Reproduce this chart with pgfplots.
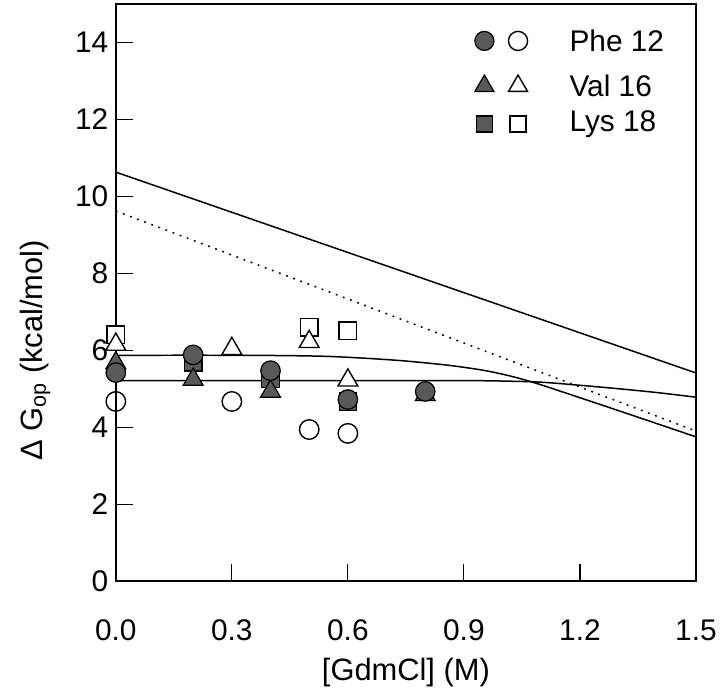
\documentclass[border=0pt]{standalone}
\usepackage{fontspec}
\setmainfont{Liberation Sans}
\usepackage{pgfplots}
\pgfplotsset{compat=1.18}
\definecolor{stip}{gray}{0.35}
\begin{document}
\begin{tikzpicture}
\begin{axis}[
  scale only axis, width=581bp, height=578bp,
  xmin=0, xmax=1.5, ymin=0, ymax=15,
  clip=false,
  axis line style={line width=1.4bp},
  xtick={0,0.3,0.6,0.9,1.2,1.5},
  ytick={0,2,4,6,8,10,12,14},
  tick align=inside, xtick pos=bottom, ytick pos=left,
  major tick length=17bp,
  tick style={line width=1.2bp, black},
  /pgf/number format/assume math mode=true,
  x tick label style={/pgf/number format/fixed, /pgf/number format/fixed zerofill, /pgf/number format/precision=1, yshift=-35bp},
  y tick label style={xshift=-4bp},
  ticklabel style={font=\fontsize{30}{32}\selectfont},
  label style={font=\fontsize{31}{33}\selectfont},
  xlabel={[GdmCl] (M)},
  ylabel={Δ G\textsubscript{op} (kcal/mol)},
  xlabel style={at={(axis description cs:0.5,-0.158)}, anchor=center},
  ylabel style={at={(axis description cs:-0.139,0.40)}, anchor=center, rotate=0},
  every axis plot/.append style={line width=1.5bp},
]
% model lines
\addplot[black, no markers] coordinates {(0,10.63) (1.5,5.41)};
\addplot[black, no markers, dash pattern=on 1.8bp off 5.8bp] coordinates {(0,9.62) (1.5,3.90)};
\addplot[black, no markers, smooth, tension=0.5] coordinates {
 (0,5.87) (0.3,5.87) (0.45,5.86) (0.55,5.84) (0.65,5.79) (0.75,5.72) (0.86,5.61) (0.95,5.48) (1.02,5.33) (1.1,5.10) (1.3,4.43) (1.5,3.75)};
\addplot[black, no markers, smooth, tension=0.5] coordinates {
 (0,5.21) (0.5,5.21) (0.9,5.21) (1.0,5.20) (1.1,5.17) (1.2,5.09) (1.3,5.00) (1.4,4.90) (1.5,4.78)};
% open markers
\addplot[only marks, mark=o, mark size=9.8pt, mark options={fill=white, line width=1.4bp}]
 coordinates {(0,4.67) (0.3,4.67) (0.5,3.94) (0.6,3.84)};
\addplot[only marks, mark=square*, mark size=8.8pt, mark options={fill=white, draw=black, line width=1.4bp}]
 coordinates {(0,6.40) (0.5,6.60) (0.6,6.51)};
\addplot[only marks, mark=triangle*, mark size=11.5pt, mark options={fill=white, draw=black, line width=1.4bp}]
 coordinates {(0,6.15) (0.3,6.04) (0.5,6.22) (0.6,5.22)};
% filled markers
\addplot[only marks, mark=square*, mark size=8.8pt, mark options={fill=stip, draw=black, line width=1.2bp}]
 coordinates {(0.2,5.69) (0.4,5.25) (0.6,4.66)};
\addplot[only marks, mark=triangle*, mark size=11.5pt, mark options={fill=stip, draw=black, line width=1.2bp}]
 coordinates {(0,5.67) (0.2,5.24) (0.4,4.93) (0.8,4.84)};
\addplot[only marks, mark=*, mark size=9.8pt, mark options={fill=stip, draw=black, line width=1.2bp}]
 coordinates {(0,5.42) (0.2,5.88) (0.4,5.47) (0.6,4.72) (0.8,4.93)};
% legend
\addplot[only marks, mark=*, mark size=9.6pt, mark options={fill=stip, draw=black, line width=1.2bp}] coordinates {(0.953,14.04)};
\addplot[only marks, mark=o, mark size=9.6pt, mark options={fill=white, line width=1.4bp}] coordinates {(1.040,14.04)};
\addplot[only marks, mark=triangle*, mark size=11pt, mark options={fill=stip, draw=black, line width=1.2bp}] coordinates {(0.953,12.87)};
\addplot[only marks, mark=triangle*, mark size=11pt, mark options={fill=white, draw=black, line width=1.4bp}] coordinates {(1.040,12.87)};
\addplot[only marks, mark=square*, mark size=8pt, mark options={fill=stip, draw=black, line width=1.2bp}] coordinates {(0.953,11.88)};
\addplot[only marks, mark=square*, mark size=8pt, mark options={fill=white, draw=black, line width=1.4bp}] coordinates {(1.040,11.88)};
\node[anchor=west, font=\fontsize{30}{32}\selectfont] at (axis cs:1.164,14.04) {Phe 12};
\node[anchor=west, font=\fontsize{30}{32}\selectfont] at (axis cs:1.164,12.87) {Val 16};
\node[anchor=west, font=\fontsize{30}{32}\selectfont] at (axis cs:1.164,11.88) {Lys 18};
\end{axis}
\path ([xshift=-116bp,yshift=-113bp]current axis.south west) rectangle ++(720bp,695bp);
\end{tikzpicture}
\end{document}
